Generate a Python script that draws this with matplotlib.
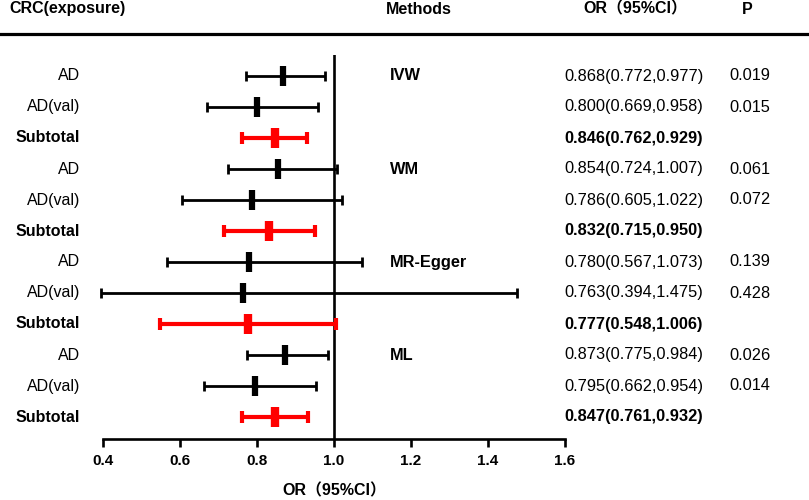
import matplotlib
matplotlib.use("Agg")
import matplotlib.pyplot as plt
import matplotlib.transforms as mtransforms
from matplotlib.lines import Line2D

# data
exposures = ["AD", "AD(val)", "Subtotal"] * 4
methods = ["IVW", "WM", "MR-Egger", "ML"]
odds = [0.868, 0.800, 0.846, 0.854, 0.786, 0.832, 0.780, 0.763, 0.777, 0.873, 0.795, 0.847]
lower = [0.772, 0.669, 0.762, 0.724, 0.605, 0.715, 0.567, 0.394, 0.548, 0.775, 0.662, 0.761]
upper = [0.977, 0.958, 0.929, 1.007, 1.022, 0.950, 1.073, 1.475, 1.006, 0.984, 0.954, 0.932]
pvals = ["0.019", "0.015", "", "0.061", "0.072", "", "0.139", "0.428", "", "0.026", "0.014", ""]
xticks = [0.4, 0.6, 0.8, 1.0, 1.2, 1.4, 1.6]

W, H = 809, 500
fig = plt.figure(figsize=(W / 100, H / 100), dpi=100)
fam = ["Liberation Sans", "Noto Sans CJK SC", "DejaVu Sans"]
plt.rcParams["font.family"] = fam

# axes placed so 0.4 -> 103px, 1.6 -> 565px, rows at 76 + 31*i px
top_px, bot_px = 55, 439
ax = fig.add_axes([103 / W, 1 - bot_px / H, 462 / W, (bot_px - top_px) / H])
ax.set_xlim(0.4, 1.6)
row0, step = 76, 31
ax.set_ylim((bot_px - row0) / step, (top_px - row0) / step)

for i in range(len(odds)):
    sub = exposures[i] == "Subtotal"
    col = "#ff0000" if sub else "black"
    ax.errorbar(odds[i], i, xerr=[[odds[i] - lower[i]], [upper[i] - odds[i]]],
                fmt="none", ecolor=col,
                elinewidth=3.0 if sub else 2.0,
                capsize=4.4 if sub else 3.6, capthick=3.0 if sub else 2.0,
                clip_on=False, zorder=3)
    ax.plot(odds[i], i, marker="|", color=col, markersize=14.5,
            markeredgewidth=6.0 if sub else 4.5, clip_on=False, zorder=4)

ax.axvline(1.0, color="black", lw=1.9, zorder=2)

for s in ["left", "top", "right"]:
    ax.spines[s].set_visible(False)
ax.spines["bottom"].set_linewidth(1.9)
ax.set_yticks([])
ax.set_xticks(xticks)
ax.set_xticklabels([f"{t:.1f}" for t in xticks], fontsize=11, fontweight="bold")
ax.tick_params(axis="x", direction="out", length=6, width=1.9, pad=5)
ax.set_xlabel("OR（95%CI）", fontsize=11.5, fontweight="bold")
ax.xaxis.set_label_coords(0.5, (bot_px - 491) / (bot_px - top_px))
ax.xaxis.label.set_va("center")

tr = mtransforms.blended_transform_factory(fig.transFigure, ax.transData)
for i in range(len(odds)):
    sub = exposures[i] == "Subtotal"
    w = "bold" if sub else "normal"
    ax.text(80 / W, i, exposures[i], transform=tr, ha="right", va="center",
            fontsize=11.5, fontweight=w)
    ax.text(564 / W, i, f"{odds[i]:.3f}({lower[i]:.3f},{upper[i]:.3f})", transform=tr,
            ha="left", va="center", fontsize=11.8, fontweight=w)
    if pvals[i]:
        ax.text(729 / W, i, pvals[i], transform=tr, ha="left", va="center", fontsize=11.8)
for k, m in enumerate(methods):
    ax.text(390 / W, 3 * k, m, transform=tr, ha="left", va="center",
            fontsize=11.8, fontweight="bold")

# header row
hy = 1 - 9 / H
fig.text(9 / W, hy, "CRC(exposure)", ha="left", va="center", fontsize=11.5, fontweight="bold")
fig.text(386 / W, hy, "Methods", ha="left", va="center", fontsize=11.5, fontweight="bold")
fig.text(583 / W, hy, "OR（95%CI）", ha="left", va="center", fontsize=11.5, fontweight="bold")
fig.text(742 / W, hy, "P", ha="left", va="center", fontsize=11.5, fontweight="bold")
fig.add_artist(Line2D([0, 1], [1 - 33.5 / H, 1 - 33.5 / H], transform=fig.transFigure,
                      color="black", lw=2.3))

fig.savefig("out.png", dpi=100)
